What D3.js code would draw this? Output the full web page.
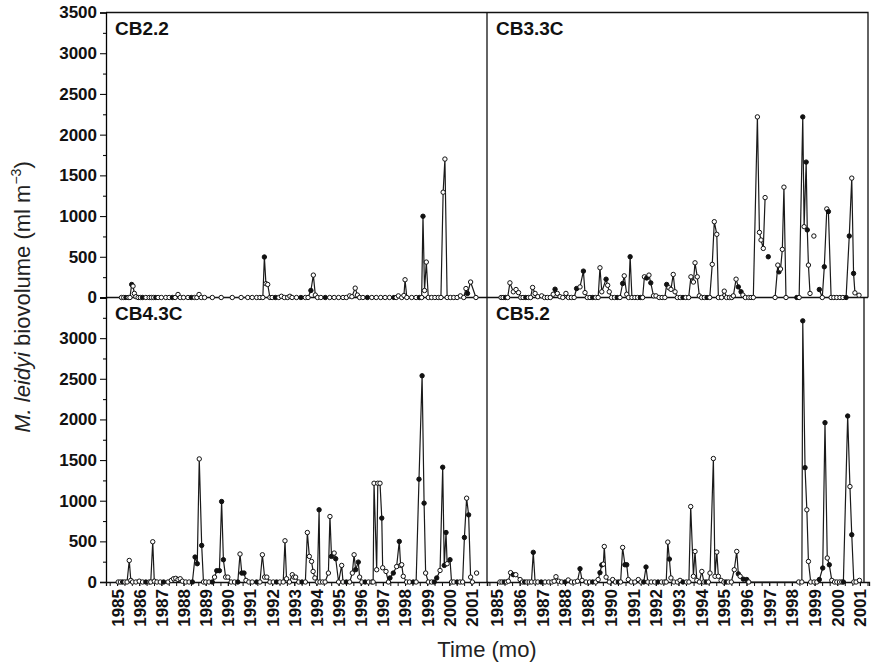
<!DOCTYPE html>
<html>
<head>
<meta charset="utf-8">
<script src="https://cdn.jsdelivr.net/npm/d3@7/dist/d3.min.js"></script>
<style>
  body { margin: 0; background: #fff; }
  text { font-family: "Liberation Sans", Arial, sans-serif; }
</style>
</head>
<body>
<svg id="chart" width="872" height="664"></svg>
<script>
// tick labels
const yearLabels = [1985,1986,1987,1988,1989,1990,1991,1992,1993,1994,1995,1996,1997,1998,1999,2000,2001];
const yLabelsTop = [0,500,1000,1500,2000,2500,3000,3500];
const yLabelsBottom = [0,500,1000,1500,2000,2500,3000];

// [decimal year, biovolume, filled?]; null = break in the line
const cb22 = [[1985.2,0],[1985.3,0],[1985.4,0,1],[1985.5,0],[1985.58,0],[1985.66,160,1],[1985.72,140],[1985.78,50],[1985.85,10],
  [1985.95,0],[1986.05,0],[1986.15,0,1],[1986.3,0],[1986.45,0],[1986.55,0],[1986.65,0],[1986.75,0,1],[1986.85,0],[1987.0,0],
  [1987.2,0],[1987.35,0],[1987.5,0,1],[1987.62,0],[1987.75,37],[1987.85,0],[1988.0,0],[1988.2,0],[1988.35,0,1],[1988.5,0],
  [1988.6,0],[1988.7,37],[1988.8,0],[1988.95,0],[1989.3,0],[1989.7,0],[1990.2,0],[1990.6,0],[1990.9,0],[1991.1,0],[1991.3,0],
  [1991.45,0],[1991.58,0],[1991.65,497,1],[1991.72,170],[1991.8,160],[1991.9,0],[1992.0,0],[1992.15,0,1],[1992.3,0],
  [1992.42,15],[1992.55,0],[1992.7,0],[1992.8,15],[1992.9,0],[1993.1,0],[1993.3,0,1],[1993.5,0],[1993.62,0],[1993.75,86,1],
  [1993.86,275],[1993.95,30],[1994.05,0],[1994.2,0],[1994.4,0,1],[1994.6,0],[1994.8,0],[1995.0,0],[1995.2,0],[1995.35,0],
  [1995.5,20],[1995.6,10],[1995.75,115],[1995.85,30],[1995.95,0],[1996.1,0],[1996.3,0,1],[1996.5,0],[1996.7,0],[1996.9,0],
  [1997.1,0],[1997.3,0],[1997.5,0,1],[1997.6,0],[1997.7,20],[1997.85,0],[1997.95,25],[1998.0,218],[1998.08,0],[1998.3,0],
  [1998.5,0],[1998.65,0,1],[1998.75,0],[1998.81,998,1],[1998.88,86],[1998.96,435],[1999.05,0],[1999.2,0],[1999.35,0],
  [1999.5,0],[1999.62,0],[1999.72,1293],[1999.8,1700],[1999.9,0],[2000.05,0],[2000.2,0],[2000.35,0],[2000.5,20],[2000.65,0],
  [2000.75,110],[2000.82,50,1],[2000.96,190],[2001.2,0]];

const cb33c = [[1985.18,0],[1985.27,0],[1985.38,0,1],[1985.47,0],[1985.57,180],[1985.72,70],[1985.84,98],[1985.95,60],
  [1986.05,0],[1986.15,0],[1986.27,0,1],[1986.38,0],[1986.48,0],[1986.57,123],[1986.68,50],[1986.8,10],[1986.97,20],
  [1987.1,0],[1987.22,0],[1987.35,0],[1987.48,40],[1987.56,102,1],[1987.66,50],[1987.78,10],[1987.9,0],[1988.04,50],
  [1988.15,0],[1988.28,0],[1988.4,0],[1988.51,110,1],[1988.66,130],[1988.81,324,1],[1988.88,60],[1988.98,0],[1989.1,0],
  [1989.22,0,1],[1989.35,0],[1989.46,0],[1989.54,365],[1989.62,70],[1989.81,225,1],[1989.88,150],[1989.95,70],[1990.05,0],
  [1990.18,0],[1990.3,0,1],[1990.42,0],[1990.54,172,1],[1990.61,266],[1990.72,40],[1990.8,0],[1990.87,500,1],[1990.95,0],
  [1991.08,0],[1991.2,0],[1991.32,0,1],[1991.42,0],[1991.5,254],[1991.6,240,1],[1991.7,275],[1991.78,180,1],[1991.9,20],
  [1992.01,20],[1992.15,0],[1992.28,0],[1992.4,0],[1992.48,160,1],[1992.58,120],[1992.67,100],[1992.77,283],[1992.85,70],
  [1992.95,0],[1993.08,0],[1993.2,0,1],[1993.32,0],[1993.45,0],[1993.55,254],[1993.66,190],[1993.73,426],[1993.83,254],
  [1993.92,20],[1994.02,0],[1994.14,0],[1994.26,0,1],[1994.38,0],[1994.49,407],[1994.58,931],[1994.69,776],[1994.76,0],
  [1994.9,0],[1995.02,78],[1995.12,0],[1995.25,0],[1995.35,0],[1995.42,20],[1995.54,225],[1995.64,130,1],[1995.76,70,1],
  [1995.84,30],[1995.95,0],[1996.1,0],[1996.2,0],[1996.3,0],[1996.48,2218],[1996.57,800],[1996.64,706],[1996.74,603],
  [1996.82,1227],null,[1996.96,500,1],null,[1997.26,0],[1997.38,398],[1997.43,315,1],[1997.5,350],[1997.58,591],
  [1997.65,1355],[1997.74,0],[1998.22,0,1],[1998.32,0],[1998.48,2218,1],[1998.54,870],[1998.63,1663,1],[1998.68,830,1],
  [1998.73,398],[1998.8,50],null,[1998.97,755],null,[1999.21,98,1],[1999.34,0],[1999.43,377,1],[1999.54,1088],
  [1999.61,1055,1],[1999.73,0],[1999.85,0],[1999.98,0],[2000.12,0],[2000.25,0],[2000.39,0,1],[2000.53,755,1],
  [2000.64,1466],[2000.72,296,1],[2000.78,57],[2000.96,28]];

const cb43c = [[1985.05,0],[1985.15,0],[1985.25,0,1],[1985.35,0],[1985.45,0],[1985.55,265],[1985.62,20],[1985.7,0],
  [1985.85,0],[1986.0,10],[1986.15,0],[1986.3,0,1],[1986.45,0],[1986.52,0],[1986.61,495],[1986.68,10],[1986.8,0],
  [1986.95,0],[1987.1,0,1],[1987.3,0],[1987.45,20],[1987.55,40],[1987.65,45],[1987.75,30],[1987.85,40],[1987.95,10],
  [1988.1,0],[1988.25,0],[1988.4,0,1],[1988.52,307,1],[1988.62,225,1],[1988.71,1514],[1988.82,450,1],[1988.9,0],
  [1989.0,0],[1989.15,0],[1989.3,0,1],[1989.4,60],[1989.5,139,1],[1989.62,139,1],[1989.72,990,1],[1989.8,274,1],
  [1989.9,60],[1990.0,60],[1990.15,0],[1990.3,0],[1990.45,0,1],[1990.55,344],[1990.63,110,1],[1990.73,110,1],
  [1990.82,20],[1990.95,0],[1991.1,0],[1991.3,0,1],[1991.45,0],[1991.56,335],[1991.66,60],[1991.76,60],[1991.9,0],
  [1992.05,0],[1992.2,0,1],[1992.35,0],[1992.5,0],[1992.58,507],[1992.65,40],[1992.78,0],[1992.91,90],[1992.98,60],
  [1993.06,60],[1993.2,0],[1993.35,0,1],[1993.5,0],[1993.59,609],[1993.68,315],[1993.78,253],[1993.85,130],[1993.93,50],
  [1994.04,0],[1994.12,888,1],[1994.16,0],[1994.28,0],[1994.39,0],[1994.54,110],[1994.61,806],[1994.68,315,1],
  [1994.8,356],[1994.87,286,1],[1995.0,0],[1995.14,204],[1995.2,0],[1995.35,0,1],[1995.5,0],[1995.62,110],[1995.7,335],
  [1995.77,151,1],[1995.89,245,1],[1995.95,60],[1996.05,0],[1996.2,0,1],[1996.35,0],[1996.5,0],[1996.56,0],[1996.6,1215],
  [1996.72,151],[1996.77,1215],[1996.87,1215],[1996.95,786,1],[1996.99,175],[1997.14,130],[1997.25,0],[1997.32,50,1],
  [1997.47,110,1],[1997.62,190],[1997.74,499,1],[1997.8,205],[1997.85,212],[1997.92,70],[1998.07,0],[1998.2,0],
  [1998.37,0,1],[1998.5,0],[1998.63,1265,1],[1998.77,2537,1],[1998.86,970,1],[1998.93,110],[1999.05,0],[1999.2,0],
  [1999.32,0,1],[1999.43,50,1],[1999.58,142],[1999.7,1412,1],[1999.77,204,1],[1999.85,609,1],[1999.9,225],[2000.03,274,1],
  [2000.1,0],[2000.2,0],[2000.35,0,1],[2000.48,0],[2000.6,0],[2000.68,548,1],[2000.78,1031],[2000.87,826,1],[2000.96,60],
  [2001.04,0],null,[2001.23,110]];

const cb52 = [[1985.13,0],[1985.22,0],[1985.32,0,1],[1985.42,0],[1985.5,10],[1985.6,115],[1985.72,90,1],[1985.83,90],
  [1986.02,30],[1986.12,0],[1986.22,0,1],[1986.32,0],[1986.42,0],[1986.52,0],[1986.6,365,1],[1986.68,0],[1986.8,0],
  [1986.95,0,1],[1987.12,0],[1987.28,0],[1987.42,0],[1987.52,10],[1987.6,65],[1987.72,10],[1987.85,0],[1988.0,0,1],
  [1988.14,25],[1988.28,0],[1988.42,0],[1988.55,10],[1988.66,163,1],[1988.75,20],[1988.93,0],[1989.08,0],[1989.22,0,1],
  [1989.35,0],[1989.46,30],[1989.54,115,1],[1989.62,210,1],[1989.69,220],[1989.73,437],[1989.81,60],[1989.95,0],
  [1990.1,30],[1990.22,0],[1990.35,0,1],[1990.45,0],[1990.54,425],[1990.64,212,1],[1990.72,212,1],[1990.79,30],
  [1990.92,0],[1991.08,0],[1991.23,30],[1991.35,0],[1991.47,0,1],[1991.57,184,1],[1991.65,0],[1991.8,0],[1991.95,0],
  [1992.1,0,1],[1992.25,0],[1992.38,0],[1992.46,0],[1992.53,491],[1992.6,282,1],[1992.67,50],[1992.8,0],[1992.95,0],
  [1993.07,20],[1993.2,0,1],[1993.35,0],[1993.46,0],[1993.54,928],[1993.66,70],[1993.73,376],[1993.81,20],[1993.92,0],
  [1994.03,130],[1994.12,0],[1994.22,0,1],[1994.32,0],[1994.39,110],[1994.54,1519],[1994.61,70],[1994.69,368],
  [1994.76,70],[1994.88,20],[1995.0,0],[1995.1,0,1],[1995.2,0],[1995.33,0],[1995.46,151],[1995.57,376],[1995.64,100,1],
  [1995.72,70],[1995.86,35,1],[1996.01,30,1],[1996.1,0],[1998.3,0],[1998.44,0],[1998.48,3213,1],[1998.58,1407,1],
  [1998.66,888],[1998.73,253],[1998.83,0],[1998.98,0],[1999.1,0],[1999.21,30,1],[1999.36,172,1],[1999.46,1960,1],
  [1999.56,295],[1999.65,212,1],[1999.76,20],[1999.88,0],[1999.98,0],[2000.1,0],[2000.2,0],[2000.27,0,1],
  [2000.46,2042,1],[2000.56,1174],[2000.64,581,1],[2000.73,0],[2000.83,0],[2000.98,20]];

const panels = [
  {name: "CB2.2", data: cb22, col: 0, row: 0},
  {name: "CB3.3C", data: cb33c, col: 1, row: 0},
  {name: "CB4.3C", data: cb43c, col: 0, row: 1},
  {name: "CB5.2", data: cb52, col: 1, row: 1}
];

const svg = d3.select("#chart");
const top0 = 12.5, mid = 297.5, bot = 582, left = 106, split = 487, right = 868;

const xs = [
  d3.scaleLinear().domain([1984.5, 2001.7]).range([left, split]),
  d3.scaleLinear().domain([1984.56, 2001.4]).range([split, 869])
];
const ys = [
  d3.scaleLinear().domain([0, 3500]).range([mid, top0]),
  d3.scaleLinear().domain([0, 3500]).range([bot, mid])
];

// frame
const frame = svg.append("g").attr("stroke", "#111").attr("stroke-width", 1.3).attr("fill", "none");
frame.append("path").attr("d", `M${left},${top0}H${right}V${mid}`);
frame.append("path").attr("d", `M${split},${top0}V${bot}`);
frame.append("path").attr("d", `M${left},${mid}H${right}`);
frame.append("path").attr("d", `M864,${mid}V${bot}`);

// y axes
ys.forEach((y, i) => {
  const minor = svg.append("g").attr("transform", `translate(${left},0)`)
    .call(d3.axisLeft(y).tickValues(d3.range(250, 3500, 500)).tickSize(3).tickFormat(""));
  minor.select(".domain").remove();
  const major = svg.append("g").attr("transform", `translate(${left},0)`)
    .call(d3.axisLeft(y).tickValues(i === 0 ? yLabelsTop : yLabelsBottom)
      .tickSize(6).tickPadding(3).tickFormat(d3.format("d")));
  major.select(".domain").attr("stroke-width", 1.3);
  major.selectAll("text").attr("font-size", 17).attr("font-weight", "bold").attr("fill", "#111");
});
svg.selectAll(".tick line").attr("stroke", "#111").attr("stroke-width", 1.1);

// x axes (bottom row)
xs.forEach((x, i) => {
  const minor = svg.append("g").attr("transform", `translate(0,${bot})`)
    .call(d3.axisBottom(x).tickValues(d3.range(1984 + 2 / 3, 2001.4, 1 / 3)).tickSize(4).tickFormat(""));
  minor.select(".domain").remove();
  minor.selectAll("line").attr("stroke", "#111");
  const major = svg.append("g").attr("transform", `translate(0,${bot})`)
    .call(d3.axisBottom(x).tickValues(yearLabels).tickSize(4).tickFormat(d3.format("d")));
  major.select(".domain").attr("stroke", "#111").attr("stroke-width", 1.3);
  major.selectAll("line").attr("stroke", "#111");
  major.selectAll("text")
    .attr("font-size", 17).attr("font-weight", "bold").attr("fill", "#111")
    .attr("transform", "rotate(-90)")
    .attr("x", -7).attr("y", 0).attr("dy", "0.35em")
    .attr("text-anchor", "end");
});

// data
const line = d3.line().defined(d => d !== null).x(d => d.x).y(d => d.y);

panels.forEach(p => {
  const x = xs[p.col], y = ys[p.row];
  const pts = p.data.map(d => d === null ? null : {x: x(d[0]), y: y(d[1]), f: d[2] === 1});
  const g = svg.append("g");
  g.append("path")
    .attr("d", line(pts))
    .attr("fill", "none")
    .attr("stroke", "#1a1a1a")
    .attr("stroke-width", 1.2)
    .attr("stroke-linejoin", "round");
  g.selectAll("circle")
    .data(pts.filter(d => d !== null))
    .join("circle")
    .attr("cx", d => d.x)
    .attr("cy", d => d.y)
    .attr("r", 2.2)
    .attr("fill", d => d.f ? "#111" : "#fff")
    .attr("stroke", "#111")
    .attr("stroke-width", 1);
  svg.append("text")
    .attr("x", (p.col === 0 ? left : split) + 9)
    .attr("y", (p.row === 0 ? top0 : mid) + 22)
    .attr("font-size", 19)
    .attr("font-weight", "bold")
    .attr("fill", "#111")
    .text(p.name);
});

// axis titles
const yt = svg.append("text")
  .attr("transform", "translate(30,297) rotate(-90)")
  .attr("text-anchor", "middle")
  .attr("font-size", 22)
  .attr("fill", "#222");
yt.append("tspan").attr("font-style", "italic").text("M. leidyi");
yt.append("tspan").text(" biovolume (ml m");
yt.append("tspan").attr("font-size", 14).attr("dy", -9).text("\u22123");
yt.append("tspan").attr("dy", 9).text(")");

svg.append("text")
  .attr("x", 487).attr("y", 657)
  .attr("text-anchor", "middle")
  .attr("font-size", 22)
  .attr("fill", "#222")
  .text("Time (mo)");
</script>
</body>
</html>
